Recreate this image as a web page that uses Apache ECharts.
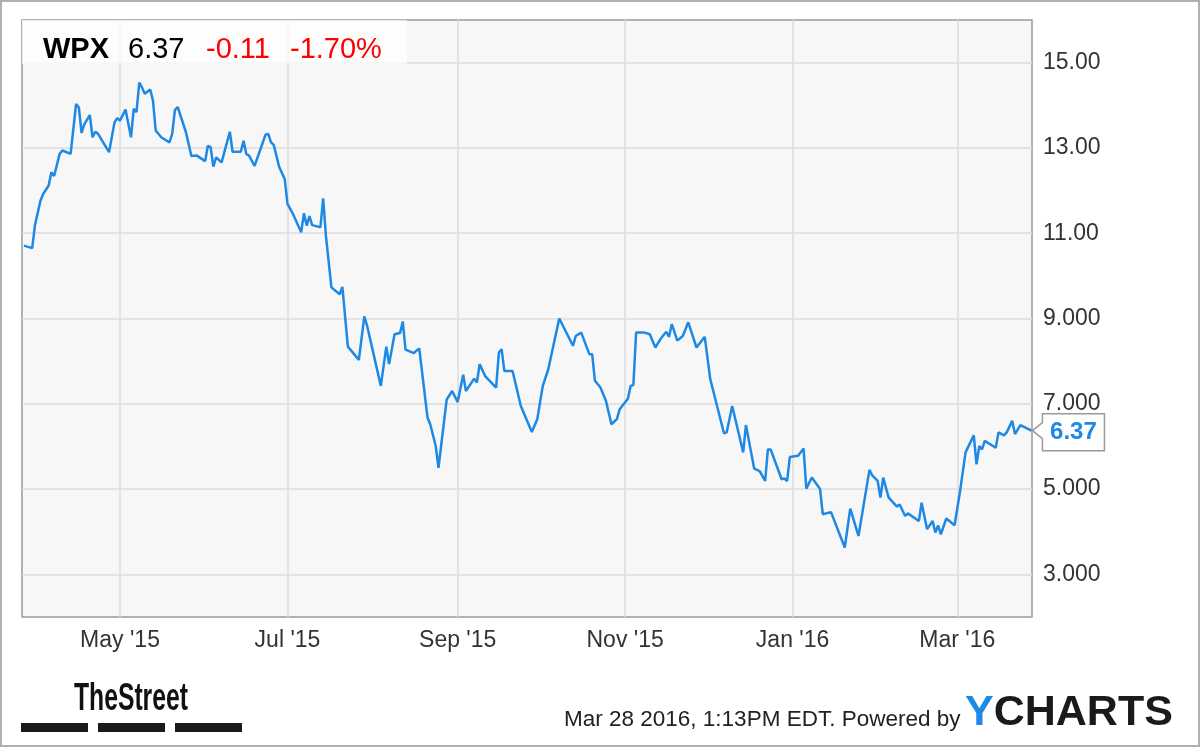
<!DOCTYPE html>
<html><head><meta charset="utf-8">
<script src="https://cdn.jsdelivr.net/npm/echarts@6/dist/echarts.min.js"></script>
<style>html,body{margin:0;padding:0;background:#fff}#c{width:1200px;height:747px}</style>
</head><body><div id="c"></div>
<script>
const dates = [
'2015-03-27','2015-03-30','2015-03-31','2015-04-02','2015-04-03','2015-04-05','2015-04-06','2015-04-07','2015-04-09','2015-04-10',
'2015-04-13','2015-04-15','2015-04-16','2015-04-17','2015-04-18','2015-04-20','2015-04-21','2015-04-22','2015-04-23','2015-04-27',
'2015-04-29','2015-04-30','2015-05-01','2015-05-03','2015-05-05','2015-05-06','2015-05-07','2015-05-08','2015-05-09','2015-05-10',
'2015-05-12','2015-05-13','2015-05-14','2015-05-16','2015-05-19','2015-05-20','2015-05-21','2015-05-22','2015-05-25','2015-05-27',
'2015-05-29','2015-06-01','2015-06-02','2015-06-03','2015-06-04','2015-06-05','2015-06-07','2015-06-10','2015-06-11','2015-06-14',
'2015-06-15','2015-06-16','2015-06-17','2015-06-19','2015-06-21','2015-06-23','2015-06-24','2015-06-25','2015-06-26','2015-06-28',
'2015-06-30','2015-07-01','2015-07-03','2015-07-06','2015-07-07','2015-07-08','2015-07-09','2015-07-10','2015-07-13','2015-07-14',
'2015-07-15','2015-07-17','2015-07-20','2015-07-21','2015-07-23','2015-07-27','2015-07-29','2015-07-30','2015-08-04','2015-08-06',
'2015-08-07','2015-08-09','2015-08-11','2015-08-12','2015-08-13','2015-08-16','2015-08-18','2015-08-21','2015-08-22','2015-08-24',
'2015-08-25','2015-08-28','2015-08-30','2015-09-01','2015-09-03','2015-09-04','2015-09-07','2015-09-08','2015-09-09','2015-09-11',
'2015-09-15','2015-09-16','2015-09-17','2015-09-18','2015-09-21','2015-09-24','2015-09-28','2015-09-30','2015-10-02','2015-10-04',
'2015-10-08','2015-10-13','2015-10-14','2015-10-16','2015-10-19','2015-10-20','2015-10-21','2015-10-23','2015-10-25','2015-10-27',
'2015-10-29','2015-10-30','2015-11-02','2015-11-03','2015-11-04','2015-11-05','2015-11-08','2015-11-10','2015-11-12','2015-11-14',
'2015-11-16','2015-11-17','2015-11-18','2015-11-20','2015-11-22','2015-11-24','2015-11-27','2015-11-30','2015-12-02','2015-12-07',
'2015-12-08','2015-12-10','2015-12-14','2015-12-15','2015-12-18','2015-12-20','2015-12-22','2015-12-23','2015-12-24','2015-12-28',
'2015-12-29','2015-12-30','2015-12-31','2016-01-03','2016-01-05','2016-01-06','2016-01-08','2016-01-11','2016-01-12','2016-01-15',
'2016-01-20','2016-01-22','2016-01-25','2016-01-29','2016-01-30','2016-02-01','2016-02-02','2016-02-03','2016-02-05','2016-02-08',
'2016-02-09','2016-02-11','2016-02-12','2016-02-16','2016-02-17','2016-02-19','2016-02-21','2016-02-22','2016-02-23','2016-02-24',
'2016-02-26','2016-02-29','2016-03-02','2016-03-04','2016-03-07','2016-03-08','2016-03-09','2016-03-10','2016-03-11','2016-03-15',
'2016-03-16','2016-03-18','2016-03-19','2016-03-21','2016-03-22','2016-03-24','2016-03-28'
];
const prices = [
10.71,10.65,11.18,11.76,11.92,12.12,12.43,12.34,12.86,12.94,
12.86,14.03,13.95,13.35,13.56,13.77,13.25,13.38,13.33,12.90,
13.60,13.70,13.64,13.90,13.25,13.92,13.84,14.53,14.42,14.27,
14.37,14.11,13.41,13.25,13.13,13.33,13.89,13.96,13.37,12.81,
12.82,12.69,13.05,13.02,12.56,12.78,12.66,13.38,12.91,12.91,
13.17,12.86,12.82,12.58,12.94,13.31,13.33,13.13,13.07,12.55,
12.27,11.69,11.45,11.02,11.47,11.18,11.40,11.19,11.14,11.82,
10.94,9.73,9.57,9.74,8.34,8.03,9.05,8.83,7.42,8.34,
7.93,8.63,8.66,8.93,8.27,8.19,8.30,6.68,6.52,6.01,
5.50,7.10,7.30,7.04,7.68,7.30,7.59,7.50,7.93,7.65,
7.38,8.20,8.28,7.77,7.77,6.95,6.34,6.64,7.42,7.81,
9.00,8.36,8.59,8.67,8.16,8.16,7.54,7.38,7.07,6.52,
6.64,6.87,7.12,7.42,7.44,8.67,8.67,8.63,8.32,8.53,
8.69,8.57,8.87,8.48,8.59,8.91,8.32,8.57,7.58,6.31,
6.33,6.95,5.86,6.50,5.48,5.42,5.19,5.93,5.93,5.23,
5.25,5.19,5.75,5.78,5.95,5.01,5.27,5.00,4.41,4.46,
3.63,4.54,3.90,5.45,5.32,5.19,4.80,5.27,4.80,4.59,
4.64,4.37,4.43,4.25,4.68,4.06,4.25,3.98,4.15,3.94,
4.31,4.15,4.95,5.86,6.26,5.58,6.01,5.93,6.13,5.97,
6.33,6.26,6.33,6.60,6.29,6.50,6.37
];
const monthTicks = ['2015-05-01','2015-07-01','2015-09-01','2015-11-01','2016-01-01','2016-03-01'];
const yTicks = [3,5,7,9,11,13,15];
const ticker = 'WPX';
const lastPrice = '6.37';
const change = '-0.11';
const changePct = '-1.70%';
const stampText = 'Mar 28 2016, 1:13PM EDT. Powered by';
const brandText = 'TheStreet';

const FONT = '"Liberation Sans", Arial, sans-serif';
const MONTHS = ['Jan','Feb','Mar','Apr','May','Jun','Jul','Aug','Sep','Oct','Nov','Dec'];
function ts(s){const p=s.split('-').map(Number);return Date.UTC(p[0],p[1]-1,p[2]);}
const data = dates.map((d,i)=>[ts(d),prices[i]]);
const tickTs = monthTicks.map(ts);

const chart = echarts.init(document.getElementById('c'), null, {renderer:'canvas'});
const option = {
  animation:false,
  backgroundColor:'#ffffff',
  grid:{left:22,top:20,right:168,bottom:130,show:true,backgroundColor:'#f7f7f7',borderColor:'#9a9a9a',borderWidth:1.5},
  xAxis:{
    type:'value',
    min:Date.UTC(2015,2,26,7), max:Date.UTC(2016,2,28,5),
    axisLine:{show:false},
    axisTick:{show:false, customValues:tickTs},
    axisLabel:{customValues:tickTs, color:'#333', fontSize:23, fontFamily:FONT, margin:12,
      formatter:function(v){const d=new Date(v);return MONTHS[d.getUTCMonth()]+" '"+String(d.getUTCFullYear()).slice(2);}},
    splitLine:{show:true,lineStyle:{color:'#dcdcdc',width:1.5}}
  },
  yAxis:{
    type:'value', position:'right', min:2, max:16,
    axisLine:{show:false},
    axisTick:{show:false, customValues:yTicks},
    axisLabel:{customValues:yTicks, color:'#333', fontSize:23, fontFamily:FONT, margin:11,
      formatter:function(v){return v>=10? v.toFixed(2): v.toFixed(3);}},
    splitLine:{show:true,lineStyle:{color:'#dcdcdc',width:1.5}}
  },
  series:[{type:'line', data:data, symbol:'none', lineStyle:{color:'#1e88e5',width:2.5}, z:5}]
};
chart.setOption(option);

const last = data[data.length-1];
const pt = chart.convertToPixel({xAxisIndex:0,yAxisIndex:0}, last);
const tx = pt[0]+1, ty = pt[1];
const graphics = [
  {type:'rect', z:20, shape:{x:22,y:20,width:385,height:44}, style:{fill:'rgba(255,255,255,0.7)'}},
  {type:'text', z:21, x:43, y:50, style:{text:ticker, font:'bold 29px '+FONT, fill:'#000', verticalAlign:'middle'}},
  {type:'text', z:21, x:128, y:50, style:{text:lastPrice, font:'29px '+FONT, fill:'#000', verticalAlign:'middle'}},
  {type:'text', z:21, x:206, y:50, style:{text:change, font:'29px '+FONT, fill:'#ff0000', verticalAlign:'middle'}},
  {type:'text', z:21, x:290, y:50, style:{text:changePct, font:'29px '+FONT, fill:'#ff0000', verticalAlign:'middle'}},
  {type:'polygon', z:30, shape:{points:[[tx,ty],[tx+10,ty-8],[tx+10,ty-17],[tx+72,ty-17],[tx+72,ty+20],[tx+10,ty+20],[tx+10,ty+8]]},
    style:{fill:'#ffffff', stroke:'#9a9a9a', lineWidth:1.5}},
  {type:'text', z:31, x:tx+41, y:ty+2, style:{text:lastPrice, font:'bold 24px '+FONT, fill:'#1e88e5', align:'center', verticalAlign:'middle'}},
  {type:'text', z:21, x:74, y:700, scaleX:0.65, style:{text:brandText, font:'bold 38px '+FONT, fill:'#111', verticalAlign:'middle'}},
  {type:'rect', z:21, shape:{x:21,y:723,width:67,height:9}, style:{fill:'#1a1a1a'}},
  {type:'rect', z:21, shape:{x:98,y:723,width:67,height:9}, style:{fill:'#1a1a1a'}},
  {type:'rect', z:21, shape:{x:175,y:723,width:67,height:9}, style:{fill:'#1a1a1a'}},
  {type:'text', z:21, x:564, y:720, style:{text:stampText, font:'22.5px '+FONT, fill:'#222', verticalAlign:'middle'}},
  {type:'text', z:21, x:965, y:713, style:{text:'{b|Y}{c|CHARTS}', verticalAlign:'middle',
    rich:{b:{fill:'#1e88e5', font:'bold 43px '+FONT}, c:{fill:'#1a1a1a', font:'bold 43px '+FONT}}}},
  {type:'rect', z:40, shape:{x:1,y:1,width:1198,height:745}, style:{fill:'none', stroke:'#b0b0b0', lineWidth:2}}
];
chart.setOption({graphic:graphics});
</script></body></html>
